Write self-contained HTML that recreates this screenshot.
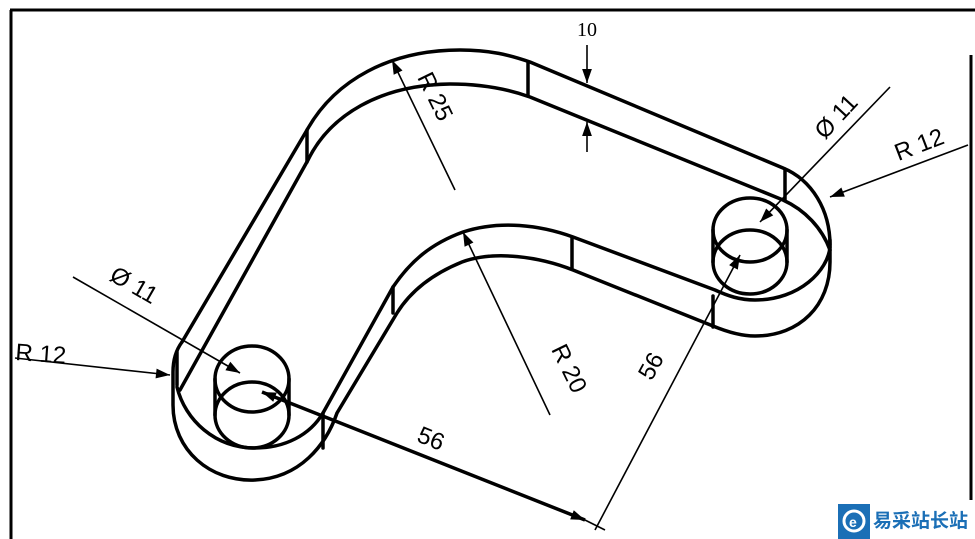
<!DOCTYPE html>
<html><head><meta charset="utf-8"><style>
html,body{margin:0;padding:0;background:#fff;}
svg{display:block;}
text{font-family:"Liberation Sans",sans-serif;fill:#000;}
</style></head><body>
<svg width="975" height="539" viewBox="0 0 975 539" xmlns="http://www.w3.org/2000/svg">
<defs>
<marker id="b" viewBox="0 0 10 10" refX="10" refY="5" markerWidth="16" markerHeight="14" orient="auto-start-reverse" markerUnits="userSpaceOnUse">
<path d="M0,1.5 L10,5 L0,8.5 z" fill="#000"/></marker>
</defs>
<g stroke="#000" stroke-width="3" fill="none">
<line x1="10" y1="10" x2="975" y2="10"/>
<line x1="11" y1="10" x2="11" y2="539"/>
<line x1="971" y1="55" x2="971" y2="500"/>
</g>
<g stroke="#000" stroke-width="3.5" fill="none" stroke-linejoin="round" stroke-linecap="round">
<path d="M182,342 L307,130 C335,80 390,50 460,50 C490,50 510,55 530,62 L783,168 C812,180 830,210 830,245"/>
<path d="M180,390 L308,160 C330,115 380,85 450,84 C480,84 505,88 530,97 L783,200 C805,210 822,228 830,250"/>
<path d="M830,240 L830,262 C830,305 800,336 755,336 C740,336 725,331 713,326 L573,270 C540,257 495,250 462,262 C430,275 410,292 397,313 L337,413 C326,445 300,478 255,480 C210,482 173,450 173,405 L173,372 C173,360 176,350 182,342"/>
<path d="M830,247 C828,270 800,300 755,300 C740,300 728,296 715,290 L573,237 C540,225 500,220 463,232 C430,244 410,262 393,287 L323,413 C310,435 285,448 255,448 C215,448 185,420 177,387"/>
<line x1="307" y1="130" x2="307" y2="162"/>
<line x1="528" y1="62" x2="528" y2="96"/>
<line x1="785" y1="169" x2="785" y2="200"/>
<line x1="572" y1="237" x2="572" y2="268"/>
<line x1="713" y1="296" x2="713" y2="327"/>
<line x1="393" y1="287" x2="393" y2="313"/>
<line x1="323" y1="413" x2="323" y2="448"/>
<line x1="177" y1="352" x2="177" y2="385"/>
<ellipse cx="252" cy="379" rx="37" ry="33"/>
<ellipse cx="252" cy="415" rx="37" ry="33"/>
<line x1="215" y1="379" x2="215" y2="415"/>
<line x1="289" y1="379" x2="289" y2="415"/>
<ellipse cx="750" cy="230" rx="37" ry="32"/>
<ellipse cx="750" cy="262" rx="37" ry="32"/>
<line x1="713" y1="230" x2="713" y2="262"/>
<line x1="787" y1="230" x2="787" y2="262"/>
</g>
<g stroke="#000" stroke-width="1.6" fill="none">
<line x1="587" y1="45" x2="587" y2="83" marker-end="url(#b)"/>
<line x1="587" y1="152" x2="587" y2="122" marker-end="url(#b)"/>
<line x1="455" y1="190" x2="392" y2="60" marker-end="url(#b)"/>
<line x1="550" y1="415" x2="463" y2="232" marker-end="url(#b)"/>
<line x1="15" y1="358" x2="170" y2="375" marker-end="url(#b)"/>
<line x1="73" y1="277" x2="240" y2="373" marker-end="url(#b)"/>
<line x1="968" y1="145" x2="830" y2="197" marker-end="url(#b)"/>
<line x1="890" y1="87" x2="760" y2="222" marker-end="url(#b)"/>
<line x1="595" y1="530" x2="740" y2="255" marker-end="url(#b)"/>
<line x1="605" y1="530" x2="575" y2="515"/>
</g>
<line x1="262" y1="392" x2="585" y2="520" stroke="#000" stroke-width="3.5" marker-start="url(#b)" marker-end="url(#b)"/>
<text x="587" y="36" font-size="20" text-anchor="middle" style="font-family:'Liberation Serif',serif">10</text>
<text transform="translate(428,100) rotate(64)" font-size="24" text-anchor="middle">R 25</text>
<text transform="translate(562,372) rotate(64)" font-size="24" text-anchor="middle">R 20</text>
<text transform="translate(130,292) rotate(30)" font-size="24" text-anchor="middle">Ø 11</text>
<text transform="translate(15,360) rotate(4)" font-size="24">R 12</text>
<text transform="translate(428,446) rotate(22)" font-size="24" text-anchor="middle">56</text>
<text transform="translate(658,370) rotate(-61)" font-size="24" text-anchor="middle">56</text>
<text transform="translate(842,122) rotate(-47)" font-size="24" text-anchor="middle">Ø 11</text>
<text transform="translate(922,152) rotate(-21)" font-size="24" text-anchor="middle">R 12</text>
<rect x="838" y="504" width="32" height="35" fill="#1b6fb6"/>
<circle cx="854" cy="521" r="10" fill="none" stroke="#fff" stroke-width="3"/>
<text x="849" y="527" font-size="14" font-weight="bold" style="fill:#fff">e</text>
<text x="873" y="527" font-size="19" font-weight="bold" style="fill:#1b6fb6;font-family:'Liberation Sans','Noto Sans CJK SC',sans-serif">易采站长站</text>
</svg>
</body></html>
